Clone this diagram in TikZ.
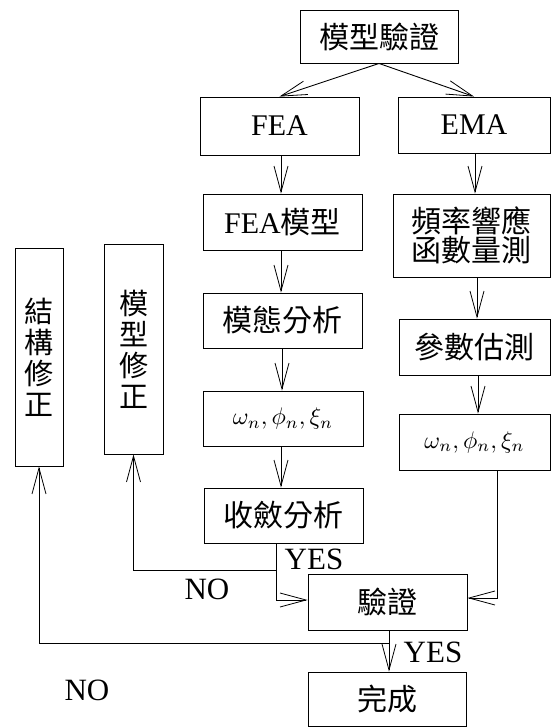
\documentclass[tikz,border=0pt]{standalone}
\usepackage{fontspec}
\setmainfont{Liberation Serif}
\newfontfamily\cjk{Noto Sans CJK TC}
\usetikzlibrary{arrows.meta,calc}
\begin{document}
\begin{tikzpicture}[x=1pt,y=-1pt,
  box/.style={draw,line width=0.9pt,rectangle,inner sep=0pt,align=center,font=\fontsize{30}{31}\selectfont},
  conn/.style={line width=0.9pt,-{Straight Barb[length=26pt,width=14pt,line width=0.8pt]}},
  mathbox/.style={box,font=\normalsize},
  lbl/.style={font=\fontsize{31}{33}\selectfont,inner sep=0pt}]
\useasboundingbox (0,0) rectangle (551,728);
\node[box,minimum width=158pt,minimum height=53pt] (mv) at (379,36.5) {\cjk 模型驗證};
\node[box,minimum width=159pt,minimum height=58pt] (fea) at (279.5,126) {FEA};
\node[box,minimum width=152pt,minimum height=56pt] (ema) at (474,125) {EMA};
\node[box,minimum width=159pt,minimum height=56pt] (feam) at (282.5,222) {FEA{\cjk 模型}};
\node[box,minimum width=159pt,minimum height=55pt] (modal) at (282.5,320.5) {\cjk 模態分析};
\node[mathbox,minimum width=160pt,minimum height=55pt] (omL) at (283,418.5) {\scalebox{2.4}{$\omega_{n},\phi_{n},\xi_{n}$}};
\node[box,minimum width=157pt,minimum height=83pt] (frf) at (471.5,235.5) {\cjk 頻率響應\\[-2pt]\cjk 函數量測};
\node[box,minimum width=151pt,minimum height=56pt] (param) at (474.5,347) {\cjk 參數估測};
\node[mathbox,minimum width=151pt,minimum height=56pt] (omR) at (474.5,442) {\scalebox{2.4}{$\omega_{n},\phi_{n},\xi_{n}$}};
\node[box,minimum width=159pt,minimum height=55pt] (conv) at (283.5,515.5) {\cjk 收斂分析};
\node[box,minimum width=159pt,minimum height=56pt] (ver) at (387.5,602) {\cjk 驗證};
\node[box,minimum width=158pt,minimum height=54pt] (done) at (387,699) {\cjk 完成};
\node[box,minimum width=48pt,minimum height=218pt,font=\fontsize{29}{31}\selectfont] (struct) at (39,357) {\cjk 結\\\cjk 構\\\cjk 修\\\cjk 正};
\node[box,minimum width=59pt,minimum height=210pt,font=\fontsize{29}{31}\selectfont] (modfix) at (133.5,349) {\cjk 模\\\cjk 型\\\cjk 修\\\cjk 正};
% connectors
\draw[conn] (mv.south) -- (fea.north);
\draw[conn] (mv.south) -- (ema.north);
\draw[conn] (fea.south -| 281,0) -- (feam.north -| 281,0);
\draw[conn] (feam.south -| 281,0) -- (modal.north -| 281,0);
\draw[conn] (modal.south -| 282,0) -- (omL.north -| 282,0);
\draw[conn] (omL.south -| 281,0) -- (conv.north -| 281,0);
\draw[conn] (ema.south -| 475,0) -- (frf.north -| 475,0);
\draw[conn] (frf.south -| 477,0) -- (param.north -| 477,0);
\draw[conn] (param.south -| 478,0) -- (omR.north -| 478,0);
\coordinate (c1) at (conv.south -| 276,0);
\coordinate (c2) at (276,570);
\draw[conn] (c1) -- (276,600) -- (ver.west |- 0,600);
\draw[conn] (c2) -| (modfix.south);
\draw[conn] (omR.south -| 497,0) -- (497,598) -- (ver.east |- 0,598);
\coordinate (v1) at (389,643);
\draw[conn] (ver.south -| 389,0) -- (done.north -| 389,0);
\draw[conn] (v1) -| (struct.south);
% labels
\node[lbl] (yes1) at (314,559) {YES};
\node[lbl] (no1) at (207,589) {NO};
\node[lbl] (yes2) at (433,652) {YES};
\node[lbl] (no2) at (87,690) {NO};
\end{tikzpicture}
\end{document}
